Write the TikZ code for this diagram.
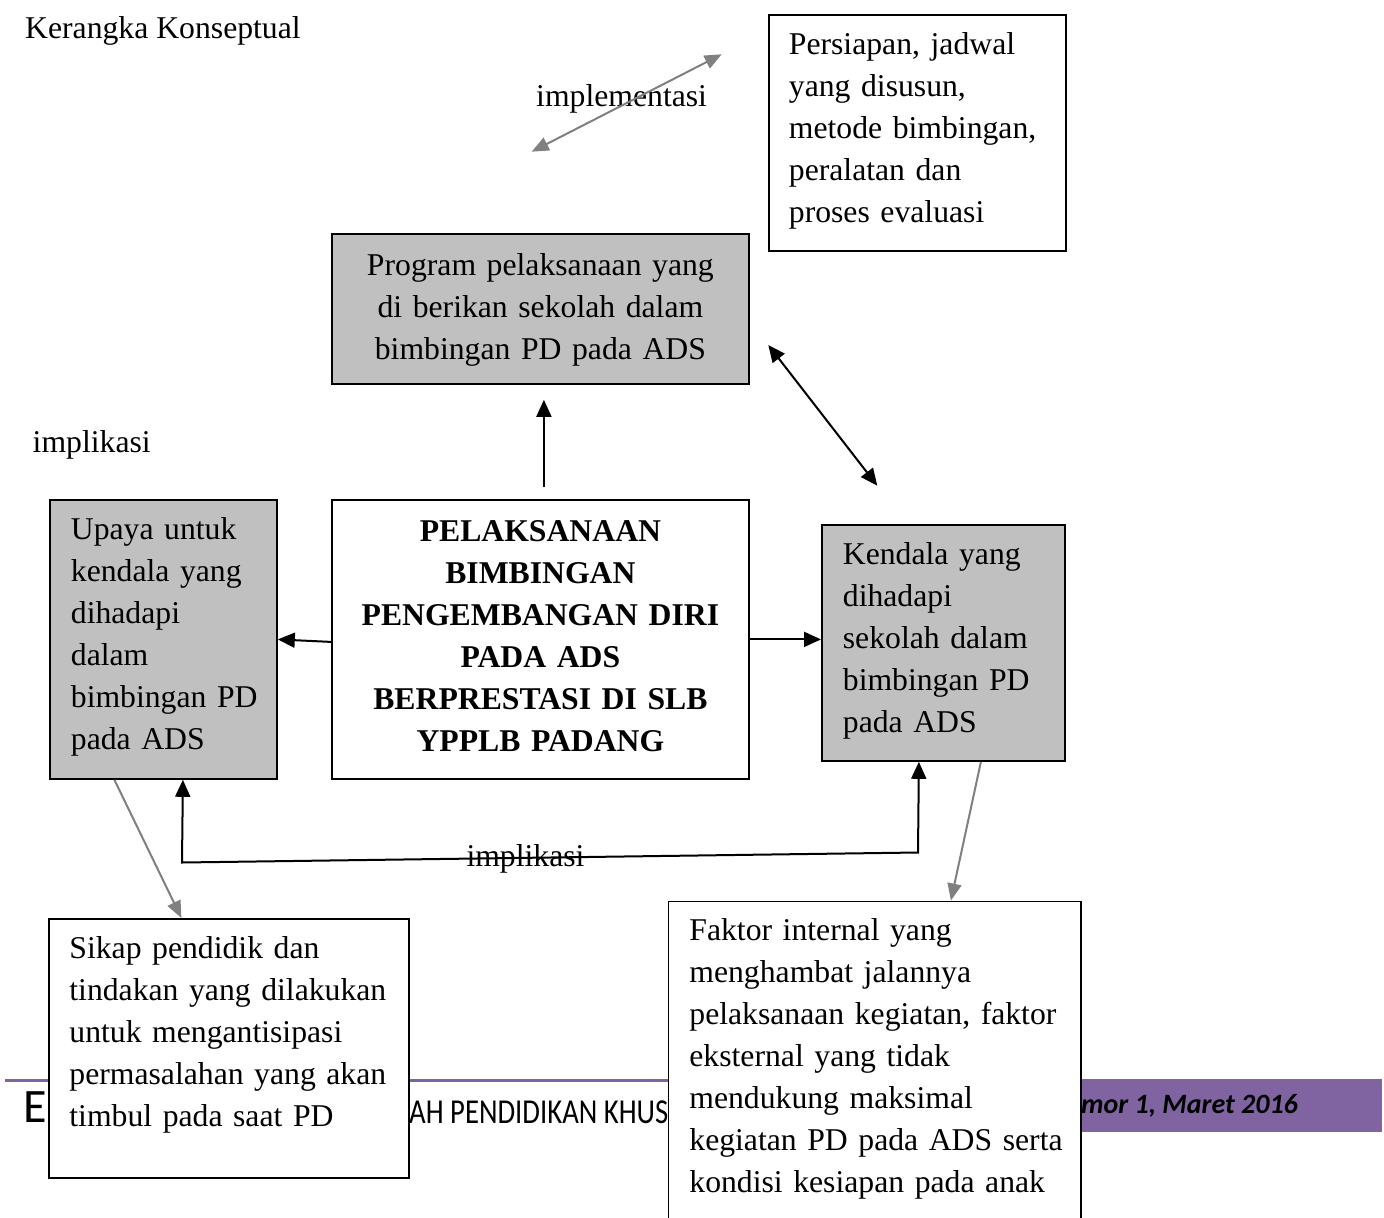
\documentclass[tikz,border=0pt]{standalone}
\usepackage{fontspec}
\setmainfont{Liberation Serif}
\newfontfamily\footsans{Carlito}
\usepackage{graphicx}
\usetikzlibrary{arrows.meta}
\definecolor{boxgray}{RGB}{192,192,192}
\definecolor{footpurple}{RGB}{128,100,162}
\definecolor{arrgray}{RGB}{128,128,128}
\tikzset{
  bodyfont/.style={font=\fontsize{31.7}{42}\selectfont},
  txt/.style={bodyfont, inner sep=0pt},
  box/.style={draw=black, line width=1.8pt, anchor=north west, inner ysep=0pt, bodyfont, align=left},
  blk/.style={draw=black, line width=2pt, -{Triangle[length=17pt,width=15pt]}},
  blkdbl/.style={draw=black, line width=2pt, {Triangle[length=17pt,width=15pt]}-{Triangle[length=17pt,width=15pt]}},
  gry/.style={draw=arrgray, line width=2pt, -{Triangle[length=17pt,width=14pt]}},
  grydbl/.style={draw=arrgray, line width=2pt, {Triangle[length=17pt,width=14pt]}-{Triangle[length=17pt,width=14pt]}},
  foot/.style={anchor=base west, inner sep=0pt, text=black}
}
\begin{document}
\begin{tikzpicture}[x=1pt,y=-1pt]
\clip (0,0) rectangle (1384,1218);
\fill[white] (0,0) rectangle (1384,1218);

% footer of the page
\draw[footpurple, line width=3pt] (5,1080) -- (1080,1080);
\fill[footpurple] (1080,1079) rectangle (1382,1132);
\node[foot, font=\footsans\fontsize{48}{48}\selectfont] (fE) at (23,1122) {E};
\node[foot, font=\footsans\fontsize{35}{35}\selectfont] (fJ) at (409,1123.3) {\scalebox{0.82}[1]{AH PENDIDIKAN KHUS}};
\node[foot, font=\footsans\bfseries\itshape\fontsize{28}{28}\selectfont] (fV) at (1081,1113.3) {mor 1, Maret 2016};

% free texts
\node[txt, anchor=base west] (title) at (25,38) {Kerangka Konseptual};
\node[txt, anchor=base west] (impl) at (536,106) {implementasi};
\node[txt, anchor=base west] (ik1) at (32.5,452.7) {implikasi};

% boxes
\node[box, fill=white, text width=257pt, inner xsep=20pt, text height=40pt, text depth=196pt] (pers) at (768,14)
  {Persiapan,~jadwal\\ yang~disusun,\\ metode~bimbingan,\\ peralatan~dan\\ proses~evaluasi};
\node[box, fill=boxgray, text width=397pt, inner xsep=10pt, align=center, text height=41.5pt, text depth=108.5pt] (prog) at (331,233)
  {Program~pelaksanaan~yang\\ di~berikan~sekolah~dalam\\ bimbingan~PD~pada~ADS};
\node[box, fill=white, text width=397pt, inner xsep=10pt, align=center, font=\fontsize{31.7}{42}\selectfont\bfseries, text height=42pt, text depth=237pt] (main) at (331,499)
  {PELAKSANAAN\\ BIMBINGAN\\ PENGEMBANGAN~DIRI\\ PADA~ADS\\ BERPRESTASI~DI~SLB\\ YPPLB~PADANG};
\node[box, fill=boxgray, text width=185pt, inner xsep=21pt, text height=40pt, text depth=239pt] (upaya) at (49,499)
  {Upaya~untuk\\ kendala~yang\\ dihadapi\\ dalam\\ bimbingan~PD\\ pada~ADS};
\node[box, fill=boxgray, text width=201pt, inner xsep=21pt, text height=40pt, text depth=196pt] (kend) at (821,524)
  {Kendala~yang\\ dihadapi\\ sekolah~dalam\\ bimbingan~PD\\ pada~ADS};
\node[box, fill=white, text width=319pt, inner xsep=20.5pt, text height=40pt, text depth=219pt] (sikap) at (48,918)
  {Sikap~pendidik~dan\\ tindakan~yang~dilakukan\\ untuk~mengantisipasi\\ permasalahan~yang~akan\\ timbul~pada~saat~PD};
\node[box, fill=white, text width=370.5pt, inner xsep=21pt, text height=39.5pt, text depth=340pt] (faktor) at (667.5,900.5)
  {Faktor~internal~yang\\ menghambat~jalannya\\ pelaksanaan~kegiatan,~faktor\\ eksternal~yang~tidak\\ mendukung~maksimal\\ kegiatan~PD~pada~ADS~serta\\ kondisi~kesiapan~pada~anak};

% connectors
\coordinate (g1) at (531.7,151.7);
\coordinate (g2) at (721.7,54.3);
\draw[grydbl] (g1) -- (g2);

\draw[blk] ([xshift=3.5pt,yshift=12pt]main.north) -- ([xshift=3.5pt,yshift=-15pt]prog.south);
\draw[blk] ([yshift=-2.5pt]main.west) -- (upaya.east);
\draw[blk] (main.east) -- (main.east -| kend.west);

\coordinate (d1) at (768.3,345);
\coordinate (d2) at (877.3,485.7);
\draw[blkdbl] (d1) -- (d2);

\coordinate (imL) at (182,862.5);
\coordinate (imR) at (918,852.5);
\draw[blkdbl, line join=miter] ([xshift=19.5pt]upaya.south) -- (imL) -- (imR) -- ([xshift=-24.5pt]kend.south);
\node[txt, anchor=base] (ik2) at (525.5,866) {implikasi};

\draw[gry] ([xshift=-49pt]upaya.south) -- ([xshift=-47.5pt]sikap.north);
\draw[gry] ([xshift=37.5pt]kend.south) -- ([xshift=76.25pt]faktor.north);
\end{tikzpicture}
\end{document}
